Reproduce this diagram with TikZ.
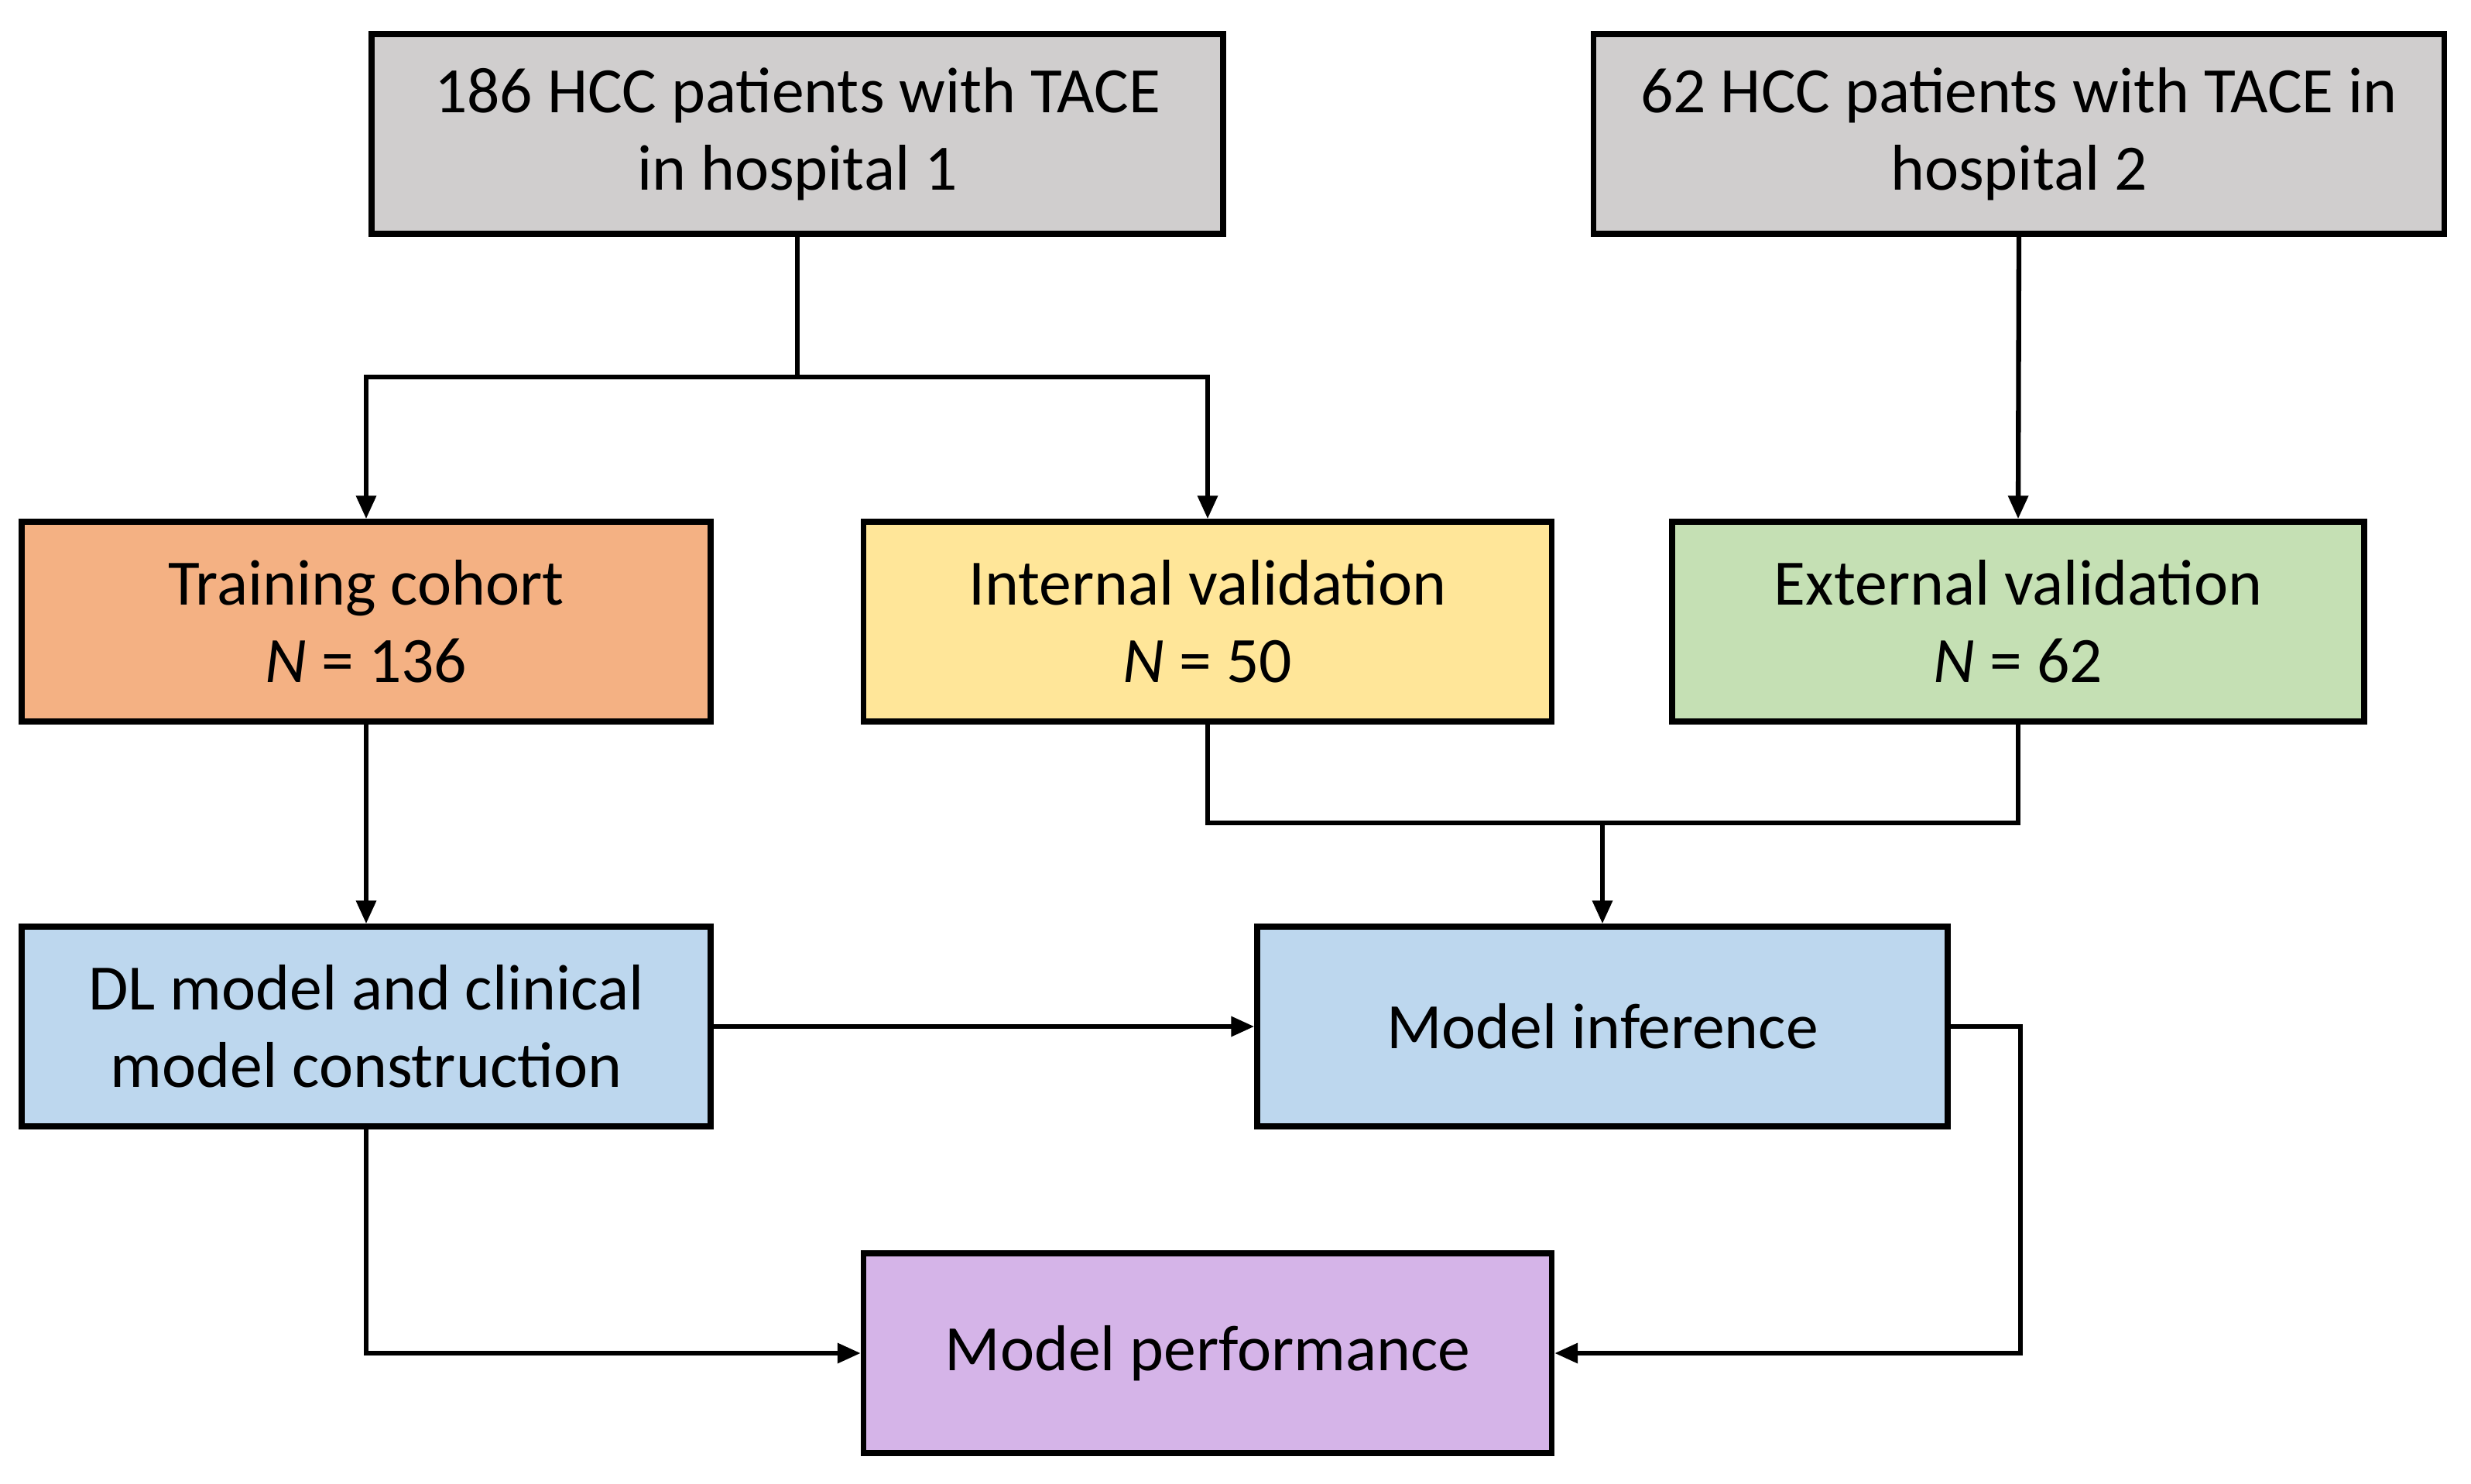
\documentclass[tikz,border=0pt]{standalone}
\usepackage{fontspec}
\setmainfont{Carlito}
\usetikzlibrary{arrows.meta,positioning}

\definecolor{boxgray}{RGB}{208,206,206}
\definecolor{boxorange}{RGB}{244,177,131}
\definecolor{boxyellow}{RGB}{255,230,153}
\definecolor{boxgreen}{RGB}{197,224,180}
\definecolor{boxblue}{RGB}{189,215,238}
\definecolor{boxpurple}{RGB}{213,180,232}

\tikzset{
  stage/.style={draw,line width=2.1pt,minimum height=2.58cm,align=center,
    font=\fontsize{23.8}{28.5}\selectfont,inner sep=0pt},
  link/.style={line width=1.8pt,-{Triangle[length=0.3cm,width=0.25cm]}},
  plain/.style={line width=1.8pt}
}

\begin{document}
\begin{tikzpicture}
\useasboundingbox (0,0) rectangle (31.92,-19.16);
% sources
\node [stage,fill=boxgray,minimum width=11cm] (hosp1) at (10.30,-1.73)
    {186 HCC patients with TACE\\in hospital 1};
\node [stage,fill=boxgray,minimum width=10.99cm] (hosp2) at (26.08,-1.73)
    {62 HCC patients with TACE in\\hospital 2};
% cohorts
\node [stage,fill=boxorange,minimum width=8.9cm] (train) at (4.73,-8.03)
    {Training cohort\\\textit{N} = 136};
\node [stage,fill=boxyellow,minimum width=8.89cm] (intval) at (15.60,-8.03)
    {Internal validation\\\textit{N} = 50};
\node [stage,fill=boxgreen,minimum width=8.94cm] (extval) at (26.07,-8.03)
    {External validation\\\textit{N} = 62};
% models
\node [stage,fill=boxblue,minimum width=8.9cm] (build) at (4.73,-13.26)
    {DL model and clinical\\model construction};
\node [stage,fill=boxblue,minimum width=8.92cm] (infer) at (20.70,-13.26)
    {Model inference};
\node [stage,fill=boxpurple,minimum width=8.89cm] (perf) at (15.60,-17.48)
    {Model performance};

\coordinate (split) at (hosp1.south |- 0,-4.87);
\coordinate (merge) at (infer.north |- 0,-10.63);
\coordinate (side) at (26.10,0 |- infer.east);

\draw [plain] (hosp1.south) -- (split);
\draw [link] (split) -| (train.north);
\draw [link] (split) -| (intval.north);
\draw [link] (hosp2.south) -- (extval.north);
\draw [plain] (intval.south) |- (merge);
\draw [plain] (extval.south) |- (merge);
\draw [link] (merge) -- (infer.north);
\draw [link] (train.south) -- (build.north);
\draw [link] (build.east) -- (infer.west);
\draw [link] (build.south) |- (perf.west);
\draw [link] (infer.east) -- (side) |- (perf.east);
\end{tikzpicture}
\end{document}
